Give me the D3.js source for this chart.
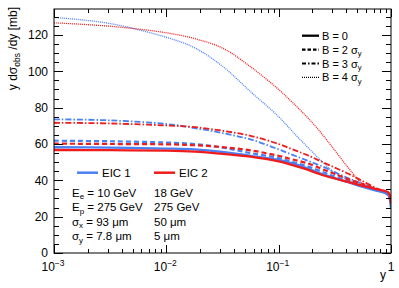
<!DOCTYPE html>
<html>
<head>
<meta charset="utf-8">
<script src="https://cdn.jsdelivr.net/npm/d3@7"></script>
<style>
  html, body { margin: 0; padding: 0; background: #fff; }
  svg { display: block; font-family: "Liberation Sans", Arial, sans-serif; }
</style>
</head>
<body>
<div id="chart"></div>
<script>
// y (inelasticity) sample points, shared by every curve
const yVals = [0.001, 0.00316, 0.01, 0.0178, 0.0316, 0.0562, 0.1, 0.133, 0.178, 0.237, 0.316, 0.422, 0.562, 0.75, 0.891, 0.955, 1];

// y dsigma_obs/dy [mb]
const eic1B0 = [58.2, 58.0, 57.5, 57.0, 55.6, 53.5, 51.2, 49.3, 46.8, 43.7, 41.2, 38.8, 36.4, 34.2, 33.0, 31.5, 25.0];
const eic2B0 = [56.7, 56.6, 56.3, 55.8, 54.6, 53.0, 50.4, 48.4, 46.0, 43.2, 41.0, 39.0, 37.0, 35.0, 34.0, 33.0, 27.0];
const eic1B2 = [61.8, 61.5, 60.8, 60.0, 58.0, 55.0, 52.3, 50.0, 47.8, 45.0, 42.0, 39.5, 37.0, 34.5, 33.0, 31.5, 25.0];
const eic2B2 = [60.2, 60.0, 59.8, 59.3, 58.3, 56.5, 53.5, 51.5, 49.5, 46.5, 43.5, 40.5, 38.0, 35.0, 34.0, 33.0, 27.0];
const eic1B3 = [73.6, 73.0, 71.0, 68.8, 66.0, 62.5, 57.0, 54.0, 51.0, 48.0, 44.5, 41.0, 38.0, 35.0, 33.3, 31.5, 25.0];
const eic2B3 = [71.7, 71.3, 70.2, 69.3, 67.3, 64.5, 60.0, 57.0, 54.0, 50.5, 47.0, 43.5, 39.5, 35.5, 34.0, 33.0, 27.0];
const eic1B4 = [129.7, 126.3, 118.7, 113.0, 102.8, 88.8, 75.0, 66.8, 58.7, 51.0, 44.0, 40.0, 37.0, 34.5, 33.0, 31.5, 25.0];
const eic2B4 = [126.7, 124.8, 121.2, 118.0, 112.8, 102.5, 90.0, 82.8, 75.0, 66.3, 56.5, 46.5, 37.8, 34.3, 33.5, 32.5, 27.0];

const colors = { eic1: "#4a80f6", eic2: "#f01c1c" };
const styles = {
  B0: { dash: null, w: 2.3 },
  B2: { dash: "5,3", w: 2.2 },
  B3: { dash: "6,2,1.5,2", w: 1.8 },
  B4: { dash: "1,1", w: 1.3 }
};

const series = [
  { v: eic1B4, c: "eic1", s: "B4" }, { v: eic2B4, c: "eic2", s: "B4" },
  { v: eic1B3, c: "eic1", s: "B3" }, { v: eic2B3, c: "eic2", s: "B3" },
  { v: eic1B2, c: "eic1", s: "B2" }, { v: eic2B2, c: "eic2", s: "B2" },
  { v: eic1B0, c: "eic1", s: "B0" }, { v: eic2B0, c: "eic2", s: "B0" }
];

const yMajor = [0, 20, 40, 60, 80, 100, 120];
const yMinor = d3.range(0, 135, 5);
const xMajor = [0.001, 0.01, 0.1, 1];
const xExp = ["−3", "−2", "−1", ""];

const width = 399, height = 288;
const marginTop = 9, marginRight = 8, marginBottom = 35, marginLeft = 54;

const x = d3.scaleLog()
  .domain([1e-3, 1])
  .range([marginLeft, width - marginRight]);

const y = d3.scaleLinear()
  .domain([0, 134.3])
  .range([height - marginBottom, marginTop]);

const svg = d3.select("#chart").append("svg")
  .attr("width", width)
  .attr("height", height)
  .attr("viewBox", [0, 0, width, height]);

svg.append("clipPath").attr("id", "clip")
  .append("rect")
  .attr("x", marginLeft).attr("y", marginTop)
  .attr("width", width - marginLeft - marginRight)
  .attr("height", height - marginTop - marginBottom);

// curves
const line = d3.line()
  .x((d, i) => x(yVals[i]))
  .y(d => y(d))
  .curve(d3.curveCatmullRom.alpha(0.5));

svg.append("g")
  .attr("clip-path", "url(#clip)")
  .attr("fill", "none")
  .selectAll("path")
  .data(series)
  .join("path")
  .attr("stroke", d => colors[d.c])
  .attr("stroke-width", d => styles[d.s].w)
  .attr("stroke-dasharray", d => styles[d.s].dash)
  .attr("d", d => line(d.v));

// frame
const x0 = marginLeft, x1 = width - marginRight, y0 = height - marginBottom, y1 = marginTop;
svg.append("rect")
  .attr("x", x0).attr("y", y1)
  .attr("width", x1 - x0).attr("height", y0 - y1)
  .attr("fill", "none").attr("stroke", "#000").attr("stroke-width", 1);

// y ticks (left and right, inside)
const yt = svg.append("g").attr("stroke", "#000").attr("stroke-width", 1);
yMinor.forEach(v => {
  const len = yMajor.includes(v) ? 9 : 5;
  const py = Math.round(y(v)) + 0.5;
  yt.append("line").attr("x1", x0).attr("x2", x0 + len).attr("y1", py).attr("y2", py);
  yt.append("line").attr("x1", x1).attr("x2", x1 - len).attr("y1", py).attr("y2", py);
});

// x ticks (bottom and top, inside)
const xt = svg.append("g").attr("stroke", "#000").attr("stroke-width", 1);
x.ticks().forEach(v => {
  const major = xMajor.some(m => Math.abs(m - v) / m < 1e-6);
  const len = major ? 8 : 4;
  const px = Math.round(x(v)) + 0.5;
  xt.append("line").attr("x1", px).attr("x2", px).attr("y1", y0).attr("y2", y0 - len);
  xt.append("line").attr("x1", px).attr("x2", px).attr("y1", y1).attr("y2", y1 + len);
});

// y tick labels
svg.append("g")
  .selectAll("text")
  .data(yMajor)
  .join("text")
  .attr("x", x0 - 6)
  .attr("y", d => y(d) + 4.3)
  .attr("text-anchor", "end")
  .attr("font-size", 12)
  .text(d => d);

// x tick labels
const xl = svg.append("g")
  .selectAll("text")
  .data(xMajor)
  .join("text")
  .attr("x", d => x(d) - (d === 1 ? 0 : 1))
  .attr("y", 271)
  .attr("text-anchor", "middle")
  .attr("font-size", 12);
xl.each(function (d, i) {
  const t = d3.select(this);
  if (d === 1) { t.text("1"); return; }
  t.append("tspan").text("10");
  t.append("tspan").attr("font-size", 8.5).attr("dy", -5).text(xExp[i]);
});

// axis titles
svg.append("text")
  .attr("x", 386).attr("y", 279)
  .attr("text-anchor", "end")
  .attr("font-size", 12)
  .text("y");

const yTitle = svg.append("text")
  .attr("transform", `translate(17,${y1 - 2}) rotate(-90)`)
  .attr("text-anchor", "end")
  .attr("font-size", 12);
yTitle.append("tspan").text("y dσ");
yTitle.append("tspan").attr("font-size", 8.5).attr("dy", 3).text("obs");
yTitle.append("tspan").attr("dy", -3).text(" /dy [mb]");

// legend: line styles
const legB = [
  { s: "B0", label: "B = 0", sub: false },
  { s: "B2", label: "B = 2 σ", sub: true },
  { s: "B3", label: "B = 3 σ", sub: true },
  { s: "B4", label: "B = 4 σ", sub: true }
];
const lb = svg.append("g").selectAll("g").data(legB).join("g")
  .attr("transform", (d, i) => `translate(302,${35.7 + i * 13.9})`);
lb.append("line")
  .attr("x1", 0).attr("x2", 17).attr("y1", 0).attr("y2", 0)
  .attr("stroke", "#000")
  .attr("stroke-width", d => styles[d.s].w)
  .attr("stroke-dasharray", d => d.s === "B4" ? "1,1" : d.s === "B3" ? "4,2,1.5,2" : d.s === "B2" ? "3.5,2" : null);
lb.each(function (d) {
  const t = d3.select(this).append("text")
    .attr("x", 20).attr("y", 4)
    .attr("font-size", 11);
  t.append("tspan").text(d.label);
  if (d.sub) t.append("tspan").attr("font-size", 7.5).attr("dy", 2.5).text("y");
});

// legend: colliders
const legC = [
  { c: "eic1", label: "EIC 1", x: 77 },
  { c: "eic2", label: "EIC 2", x: 154 }
];
const lc = svg.append("g").selectAll("g").data(legC).join("g")
  .attr("transform", d => `translate(${d.x},172.7)`);
lc.append("line")
  .attr("x1", 0).attr("x2", 21).attr("y1", 0).attr("y2", 0)
  .attr("stroke", d => colors[d.c]).attr("stroke-width", 2.5);
lc.append("text")
  .attr("x", 25).attr("y", 4)
  .attr("font-size", 11.5)
  .text(d => d.label);

// parameter table
const paramSym = ["E", "E", "σ", "σ"];
const paramSub = ["e", "p", "x", "y"];
const paramEic1 = ["10 GeV", "275 GeV", "93 μm", "7.8 μm"];
const paramEic2 = ["18 GeV", "275 GeV", "50 μm", "5 μm"];
const rowY = [196.5, 211, 225.5, 240];

const pt = svg.append("g").attr("font-size", 11.5);
paramSym.forEach((s, i) => {
  const t = pt.append("text").attr("x", 72).attr("y", rowY[i]);
  t.append("tspan").text(s);
  t.append("tspan").attr("font-size", 8).attr("dy", 2.5).text(paramSub[i]);
  t.append("tspan").attr("dy", -2.5).text(" = " + paramEic1[i]);
  pt.append("text").attr("x", 154).attr("y", rowY[i]).text(paramEic2[i]);
});
</script>
</body>
</html>
